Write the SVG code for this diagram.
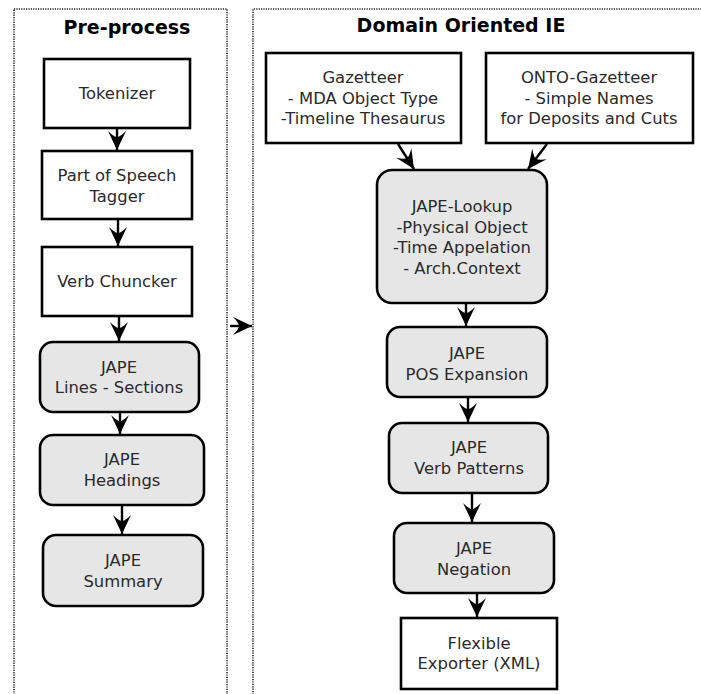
<svg xmlns="http://www.w3.org/2000/svg" width="701" height="694" viewBox="0 0 701 694">
<defs>
<style>
.frame{fill:none;stroke:#222;stroke-width:1.6;stroke-dasharray:1.2 1.2}
.box{fill:#fff;stroke:#000;stroke-width:2.6}
.rbox{fill:#e6e6e6;stroke:#000;stroke-width:2.6}
.t{font-family:"DejaVu Sans",sans-serif;font-size:16.4px;fill:#2a2a2a;text-anchor:middle}
.title{font-family:"DejaVu Sans",sans-serif;font-size:19px;font-weight:bold;fill:#000;text-anchor:middle}
.c{fill:none;stroke:#000;stroke-width:2.4}
</style>
<marker id="ah" markerUnits="userSpaceOnUse" viewBox="-20 -10 21 20" refX="0" refY="0" markerWidth="21" markerHeight="20" orient="auto">
<path d="M0,0 L-19,-9 Q-13,-3 -13,0 Q-13,3 -19,9 Z" fill="#000"/>
</marker>
</defs>
<g id="frames">
<rect class="frame" x="14" y="9" width="213" height="700"/>
<path class="frame" d="M253,709 V9 H705"/>
<text class="title" x="127" y="34">Pre-process</text>
<text class="title" x="461" y="32">Domain Oriented IE</text>
</g>
<g id="connectors">
<line class="c" x1="117" y1="129" x2="117" y2="150" marker-end="url(#ah)"/>
<line class="c" x1="118" y1="220" x2="118" y2="246" marker-end="url(#ah)"/>
<line class="c" x1="119" y1="317" x2="119" y2="341" marker-end="url(#ah)"/>
<line class="c" x1="120" y1="413" x2="120" y2="434" marker-end="url(#ah)"/>
<line class="c" x1="122" y1="506" x2="122" y2="534" marker-end="url(#ah)"/>
<line class="c" x1="230" y1="326" x2="252" y2="326" marker-end="url(#ah)"/>
<line class="c" x1="398" y1="144" x2="414" y2="169" marker-end="url(#ah)"/>
<line class="c" x1="547" y1="144" x2="528" y2="169" marker-end="url(#ah)"/>
<line class="c" x1="466" y1="304" x2="466" y2="326" marker-end="url(#ah)"/>
<line class="c" x1="468" y1="398" x2="468" y2="422" marker-end="url(#ah)"/>
<line class="c" x1="472" y1="494" x2="472" y2="522" marker-end="url(#ah)"/>
<line class="c" x1="477" y1="594" x2="477" y2="617" marker-end="url(#ah)"/>
</g>
<g id="tokenizer"><rect class="box" x="44" y="59" width="146" height="69"/><text class="t" x="117" y="99">Tokenizer</text></g>
<g id="pos-tagger"><rect class="box" x="42" y="151" width="150" height="68"/><text class="t" x="117" y="181">Part of Speech</text><text class="t" x="117" y="202">Tagger</text></g>
<g id="verb-chuncker"><rect class="box" x="42" y="247" width="150" height="69"/><text class="t" x="117" y="287">Verb Chuncker</text></g>
<g id="jape-lines"><rect class="rbox" x="40" y="342" width="159" height="70" rx="13"/><text class="t" x="119" y="373">JAPE</text><text class="t" x="119" y="393">Lines - Sections</text></g>
<g id="jape-headings"><rect class="rbox" x="40" y="435" width="164" height="70" rx="13"/><text class="t" x="122" y="465">JAPE</text><text class="t" x="122" y="486">Headings</text></g>
<g id="jape-summary"><rect class="rbox" x="43" y="535" width="160" height="71" rx="13"/><text class="t" x="123" y="566">JAPE</text><text class="t" x="123" y="587">Summary</text></g>
<g id="gazetteer"><rect class="box" x="266" y="53" width="195" height="90"/><text class="t" x="363" y="83">Gazetteer</text><text class="t" x="363" y="104">- MDA Object Type</text><text class="t" x="363" y="124">-Timeline Thesaurus</text></g>
<g id="onto-gazetteer"><rect class="box" x="486" y="53" width="207" height="90"/><text class="t" x="589" y="83">ONTO-Gazetteer</text><text class="t" x="589" y="104">- Simple Names</text><text class="t" x="589" y="124">for Deposits and Cuts</text></g>
<g id="jape-lookup"><rect class="rbox" x="377" y="170" width="170" height="133" rx="15"/><text class="t" x="462" y="212">JAPE-Lookup</text><text class="t" x="462" y="233">-Physical Object</text><text class="t" x="462" y="253">-Time Appelation</text><text class="t" x="462" y="274">- Arch.Context</text></g>
<g id="jape-pos"><rect class="rbox" x="387" y="327" width="160" height="70" rx="13"/><text class="t" x="467" y="359">JAPE</text><text class="t" x="467" y="380">POS Expansion</text></g>
<g id="jape-verb"><rect class="rbox" x="389" y="423" width="159" height="70" rx="13"/><text class="t" x="469" y="453">JAPE</text><text class="t" x="469" y="474">Verb Patterns</text></g>
<g id="jape-negation"><rect class="rbox" x="394" y="523" width="160" height="70" rx="13"/><text class="t" x="474" y="554">JAPE</text><text class="t" x="474" y="575">Negation</text></g>
<g id="exporter"><rect class="box" x="401" y="618" width="156" height="71"/><text class="t" x="479" y="649">Flexible</text><text class="t" x="479" y="669">Exporter (XML)</text></g>
</svg>
